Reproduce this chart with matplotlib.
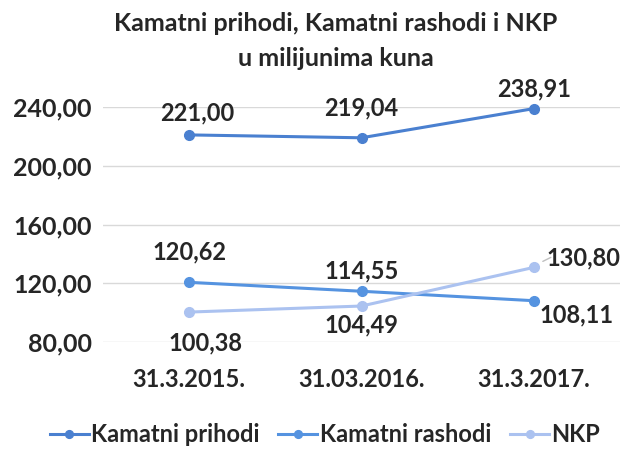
import matplotlib
matplotlib.use("Agg")
import matplotlib.pyplot as plt
from matplotlib.transforms import ScaledTranslation

categories = ["31.3.2015.", "31.03.2016.", "31.3.2017."]
prihodi = [221.00, 219.04, 238.91]
rashodi = [120.62, 114.55, 108.11]
nkp = [100.38, 104.49, 130.80]
yticks = [80, 120, 160, 200, 240]
title = "Kamatni prihodi, Kamatni rashodi i NKP\nu milijunima kuna"
series_names = ["Kamatni prihodi", "Kamatni rashodi", "NKP"]

plt.rcParams['font.family'] = ['Lato', 'DejaVu Sans']
plt.rcParams['font.weight'] = 'bold'
TXT = "#262626"
FS = 17

fig = plt.figure(figsize=(6.31, 4.5), dpi=100)
ax = fig.add_axes([103/631, 1-342/450, (620-103)/631, (342-107)/450])

x = list(range(len(categories)))
colors = ["#4a80d0", "#5593e0", "#abc2f0"]
lw = 2.2
ms = 7
for vals, c, name in zip([prihodi, rashodi, nkp], colors, series_names):
    ax.plot(x, vals, color=c, lw=lw, marker='o', ms=ms, label=name, clip_on=False, zorder=3)

def fmt(v):
    return f"{v:.2f}".replace('.', ',')

offsets = {
    0: [(8, 22), (0, 30), (0, 20)],
    1: [(0, 30), (0, 20), (43, -14)],
    2: [(16, -31), (0, -19), (50, 9)],
}
for si, vals in enumerate([prihodi, rashodi, nkp]):
    for i, v in enumerate(vals):
        dx, dy = offsets[si][i]
        ax.annotate(fmt(v), (i, v), xytext=(dx, dy), textcoords='offset pixels',
                    ha='center', va='center', fontsize=FS, fontweight='bold', color=TXT)

# short leader line for the NKP 2017 label
seg_tr0 = ax.transData + ScaledTranslation(9/100, 6/100, fig.dpi_scale_trans)
ax.annotate("", xy=(2, nkp[2]), xycoords=seg_tr0, xytext=(8, 4), textcoords='offset pixels',
            arrowprops=dict(arrowstyle='-', color='#bfbfbf', lw=1, shrinkA=0, shrinkB=0))

ax.set_xlim(-0.5, 2.5)
ax.set_ylim(80, 240)
ax.set_yticks(yticks)
ax.set_yticklabels([fmt(v) for v in yticks])
ax.set_xticks(x)
ax.set_xticklabels(categories)
ax.tick_params(axis='both', length=0, labelcolor=TXT)
ax.tick_params(axis='x', pad=19, labelsize=FS)
ax.tick_params(axis='y', pad=8, labelsize=18)
for lab in ax.get_xticklabels() + ax.get_yticklabels():
    lab.set_fontweight('bold')
ax.grid(axis='y', color='#d9d9d9', lw=1)
ax.set_axisbelow(True)
for s in ax.spines.values():
    s.set_visible(False)

fig.text(336/631, 1-41/450, title, ha='center', va='center', fontsize=18, fontweight='bold',
         color=TXT, linespacing=1.65)

leg = fig.legend(loc='center', bbox_to_anchor=(0.515, 1-435/450), ncol=3, frameon=False,
                 prop={'size': 17, 'weight': 'bold'}, handlelength=1.65, columnspacing=0.8,
                 handletextpad=0.1, markerscale=0.8)
for t in leg.get_texts():
    t.set_color(TXT)

fig.savefig("out.png", dpi=100)
